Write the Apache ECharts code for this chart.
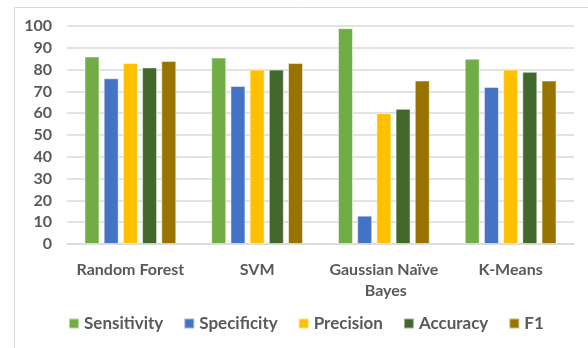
<!DOCTYPE html>
<html>
<head>
<meta charset="utf-8">
<script src="https://cdn.jsdelivr.net/npm/echarts@6/dist/echarts.min.js"></script>
<style>
  html, body { margin: 0; padding: 0; background: #fff; }
  #chart { width: 588px; height: 348px; }
</style>
</head>
<body>
<div id="chart"></div>
<script>
  // model names on the x axis
  const categories = ['Random Forest', 'SVM', 'Gaussian Naïve Bayes', 'K-Means']
  const sensitivity = [86, 85.5, 99, 85]
  const specificity = [76, 72.5, 13, 72]
  const precision = [83, 80, 60, 80]
  const accuracy = [81, 80, 62, 79]
  const f1 = [84, 83, 75, 75]
  const yTicks = [0, 100, 10]

  const colors = ['#70AD47', '#4472C4', '#FFC000', '#43682B', '#997300']
  const font = 'Lato, "Open Sans", sans-serif'

  const chart = echarts.init(document.getElementById('chart'))

  const mk = (name, data) => ({
    name: name,
    type: 'bar',
    data: data,
    barWidth: 15,
    barGap: '28%',
    itemStyle: { borderColor: 'rgba(255,255,255,0.5)', borderWidth: 1 }
  })

  chart.setOption({
    animation: false,
    color: colors,
    textStyle: { fontFamily: font },
    graphic: [{
      type: 'polyline',
      shape: { points: [[14.5, 348], [14.5, 7.5], [588, 7.5]] },
      style: { fill: null, stroke: '#d9d9d9', lineWidth: 1 }
    }],
    grid: { left: 67, right: 14, top: 26, bottom: 104 },
    legend: {
      bottom: 11,
      left: 63,
      itemWidth: 10,
      itemHeight: 10,
      itemGap: 20,
      icon: 'rect',
      textStyle: { color: '#595959', fontSize: 17, fontWeight: 'bold', fontFamily: font }
    },
    xAxis: {
      type: 'category',
      data: categories,
      axisLine: { lineStyle: { color: '#d9d9d9', width: 1.5 } },
      axisTick: { show: false },
      axisLabel: {
        color: '#595959', fontSize: 16, fontWeight: 'bold', margin: 15,
        width: 125, overflow: 'break', lineHeight: 21, interval: 0
      }
    },
    yAxis: {
      type: 'value',
      min: yTicks[0],
      max: yTicks[1],
      interval: yTicks[2],
      axisLine: { show: false },
      axisTick: { show: false },
      splitLine: { lineStyle: { color: '#d9d9d9', width: 1.5 } },
      axisLabel: { color: '#595959', fontSize: 16, fontWeight: 'bold', margin: 15 }
    },
    series: [
      mk('Sensitivity', sensitivity),
      mk('Specificity', specificity),
      mk('Precision', precision),
      mk('Accuracy', accuracy),
      mk('F1', f1)
    ]
  })
</script>
</body>
</html>
